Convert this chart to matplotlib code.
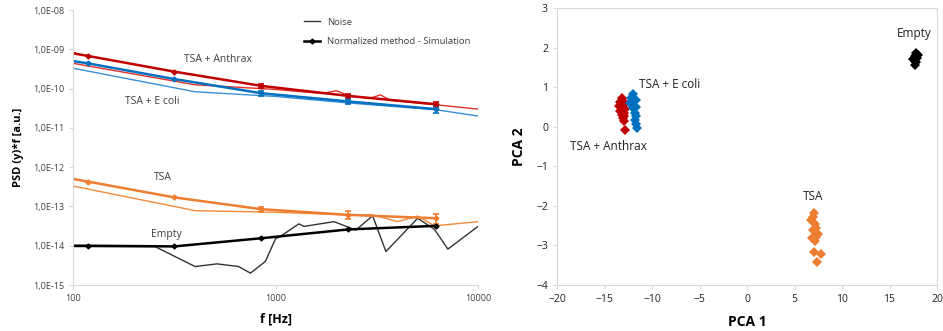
import matplotlib
matplotlib.use("Agg")
import matplotlib.pyplot as plt
import numpy as np

plt.rcParams['font.family'] = ['Open Sans', 'DejaVu Sans']

# ---------------- Left panel data ----------------
sim_freq = [100, 118, 316, 852, 2290, 6180]
anthrax_sim = [7.9e-10, 6.8e-10, 2.7e-10, 1.17e-10, 6.5e-11, 4.0e-11]
anthrax_err = [0, 0, 0, 1.5e-11, 8.5e-12, 5.5e-12]
ecoli_sim = [5.0e-10, 4.4e-10, 1.75e-10, 7.6e-11, 4.7e-11, 3.0e-11]
ecoli_err = [0, 0, 0, 1.3e-11, 7e-12, 6e-12]
tsa_sim = [5.0e-13, 4.3e-13, 1.7e-13, 8.5e-14, 6.1e-14, 5.0e-14]
tsa_err = [0, 0, 0, 1.1e-14, 1.4e-14, 1.4e-14]
empty_sim = [1.0e-14, 1.0e-14, 9.6e-15, 1.55e-14, 2.6e-14, 3.2e-14]

anthrax_noise_f = [100, 400, 1000, 1700, 2000, 2300, 2900, 3300, 3700, 6100, 10000]
anthrax_noise = [4.4e-10, 1.25e-10, 9.5e-11, 7.5e-11, 8.8e-11, 6.6e-11, 5.6e-11, 6.9e-11, 5.0e-11, 3.9e-11, 3.0e-11]
ecoli_noise_f = [100, 400, 1000, 2290, 6180, 10000]
ecoli_noise = [3.3e-10, 8.3e-11, 6.3e-11, 4.3e-11, 2.9e-11, 2.0e-11]
tsa_noise_f = [100, 401, 1000, 2250, 3017, 4000, 5040, 6100, 10000]
tsa_noise = [3.3e-13, 7.8e-14, 7.1e-14, 6.1e-14, 6.1e-14, 4.1e-14, 5.7e-14, 3.2e-14, 4.1e-14]
empty_noise_f = [100, 254, 401, 514, 658, 752, 892, 1000, 1060, 1305, 1381, 1945, 2494, 3017, 3510, 5036, 6100, 7100, 10000]
empty_noise = [9.5e-15, 9.5e-15, 2.95e-15, 3.45e-15, 2.95e-15, 2.0e-15, 4.0e-15, 1.5e-14, 1.75e-14, 3.6e-14, 3.1e-14, 4.1e-14, 2.5e-14, 5.8e-14, 7.1e-15, 5.0e-14, 2.6e-14, 8.2e-15, 3.1e-14]

y_ticks = [1e-15, 1e-14, 1e-13, 1e-12, 1e-11, 1e-10, 1e-9, 1e-8]
y_tick_labels = ['1,0E-15', '1,0E-14', '1,0E-13', '1,0E-12', '1,0E-11', '1,0E-10', '1,0E-09', '1,0E-08']
x_ticks = [100, 1000, 10000]
x_tick_labels = ['100', '1000', '10000']

# ---------------- Right panel data ----------------
anthrax_pc1 = [-13.2, -13.1, -13.4, -12.9, -13.5, -13.2, -12.8, -13.35, -13.0, -13.2, -12.9, -13.1, -12.95, -12.8, -13.3, -13.0]
anthrax_pc2 = [0.72, 0.66, 0.62, 0.58, 0.52, 0.48, 0.46, 0.40, 0.35, 0.30, 0.27, 0.22, 0.14, -0.08, 0.55, 0.60]
ecoli_pc1 = [-12.0, -12.17, -11.72, -12.35, -11.65, -12.0, -11.82, -11.65, -11.82, -11.65, -11.58, -12.07, -11.93]
ecoli_pc2 = [0.82, 0.72, 0.68, 0.60, 0.51, 0.47, 0.34, 0.26, 0.18, 0.07, -0.03, 0.55, 0.64]
tsa_pc1 = [7.02, 6.77, 7.12, 6.95, 7.3, 7.47, 6.88, 7.12, 7.23, 7.05, 7.79, 7.37, 6.95, 7.3]
tsa_pc2 = [-2.19, -2.37, -2.46, -2.61, -2.69, -2.71, -2.82, -2.88, -2.56, -3.17, -3.22, -3.43, -2.27, -2.78]
empty_pc1 = [17.82, 17.65, 17.9, 17.56, 17.75, 17.65, 17.96, 17.5]
empty_pc2 = [1.86, 1.78, 1.74, 1.69, 1.63, 1.57, 1.82, 1.71]

RED, RED_T = '#C00000', '#E0302A'
BLUE, BLUE_T = '#0070C0', '#3A8FD8'
ORANGE, ORANGE_T = '#ED7D31', '#F08A3C'
BLACK, GRAY = '#000000', '#333333'
SPINE = '#D9D9D9'
TXT = '#404040'

fig = plt.figure(figsize=(9.43, 3.31), dpi=100)

# ---- left axes ----
ax = fig.add_axes([73/943, 1-285/331, (478-73)/943, (285-10)/331])
ax.set_xscale('log')
ax.set_yscale('log')
ax.set_xlim(100, 10000)
ax.set_ylim(1e-15, 1e-8)

thin = 1.0
thick = 1.8
ax.plot(anthrax_noise_f, anthrax_noise, color=RED_T, lw=thin)
ax.plot(ecoli_noise_f, ecoli_noise, color=BLUE_T, lw=thin)
ax.plot(tsa_noise_f, tsa_noise, color=ORANGE_T, lw=thin)
ax.plot(empty_noise_f, empty_noise, color=GRAY, lw=thin, label='Noise')

for vals, err, col in [(anthrax_sim, anthrax_err, RED), (ecoli_sim, ecoli_err, BLUE),
                       (tsa_sim, tsa_err, ORANGE)]:
    ax.errorbar(sim_freq, vals, yerr=err, color=col, lw=thick, marker='D', ms=2.5,
                elinewidth=1.2, capsize=2.5, capthick=1.2, markevery=list(range(1, 6)))
ax.plot(sim_freq, empty_sim, color=BLACK, lw=thick, marker='D', ms=2.5,
        markevery=list(range(1, 6)), label='Normalized method - Simulation')

ax.set_yticks(y_ticks)
ax.set_yticklabels(y_tick_labels)
ax.set_xticks(x_ticks)
ax.set_xticklabels(x_tick_labels)
ax.minorticks_off()
ax.tick_params(axis='both', labelsize=6.5, colors=SPINE, labelcolor=TXT, length=3, width=0.8)
for s in ['top', 'right']:
    ax.spines[s].set_visible(False)
for s in ['left', 'bottom']:
    ax.spines[s].set_color(SPINE)
ax.set_ylabel('PSD (y)*f [a.u.]', fontsize=8, fontweight='bold', labelpad=6)
ax.set_xlabel('f [Hz]', fontsize=9, fontweight='bold', labelpad=7)

leg = ax.legend(loc='upper right', bbox_to_anchor=(1.0, 1.0), frameon=False, fontsize=6.8,
                handlelength=1.6, labelspacing=1.1, borderaxespad=0.4)
for t in leg.get_texts():
    t.set_color(TXT)

tfs = 7.5
ax.text(218/943, 1-59/331, 'TSA + Anthrax', transform=fig.transFigure, ha='center', va='center', fontsize=tfs, color=TXT)
ax.text(152/943, 1-101/331, 'TSA + E coli', transform=fig.transFigure, ha='center', va='center', fontsize=tfs, color=TXT)
ax.text(163/943, 1-177/331, 'TSA', transform=fig.transFigure, ha='center', va='center', fontsize=tfs, color=TXT)
ax.text(166/943, 1-234/331, 'Empty', transform=fig.transFigure, ha='center', va='center', fontsize=tfs, color=TXT)

# ---- right axes ----
bx = fig.add_axes([557/943, 1-285/331, (937-557)/943, (285-8)/331])
bx.set_xlim(-20, 20)
bx.set_ylim(-4, 3)
ms = 5.2
bx.plot(anthrax_pc1, anthrax_pc2, 'D', color=RED, ms=ms, mew=0)
bx.plot(ecoli_pc1, ecoli_pc2, 'D', color=BLUE, ms=ms, mew=0)
bx.plot(tsa_pc1, tsa_pc2, 'D', color=ORANGE, ms=ms, mew=0)
bx.plot(empty_pc1, empty_pc2, 'D', color=BLACK, ms=ms, mew=0)
bx.set_xticks(range(-20, 21, 5))
bx.set_yticks(range(-4, 4))
bx.tick_params(axis='both', labelsize=7.5, colors=SPINE, labelcolor='#222222', length=3, width=0.8)
for s in bx.spines.values():
    s.set_color(SPINE)
bx.set_xlabel('PCA 1', fontsize=10, fontweight='bold', labelpad=7)
bx.set_ylabel('PCA 2', fontsize=10, fontweight='bold', labelpad=7)

rfs = 8.5
bx.text(914/943, 1-34/331, 'Empty', transform=fig.transFigure, ha='center', va='center', fontsize=rfs, color='#222222')
bx.text(670/943, 1-84/331, 'TSA + E coli', transform=fig.transFigure, ha='center', va='center', fontsize=rfs, color='#222222')
bx.text(608/943, 1-146/331, 'TSA + Anthrax', transform=fig.transFigure, ha='center', va='center', fontsize=rfs, color='#222222')
bx.text(813/943, 1-197/331, 'TSA', transform=fig.transFigure, ha='center', va='center', fontsize=rfs, color='#222222')

fig.savefig('out.png', dpi=100)
